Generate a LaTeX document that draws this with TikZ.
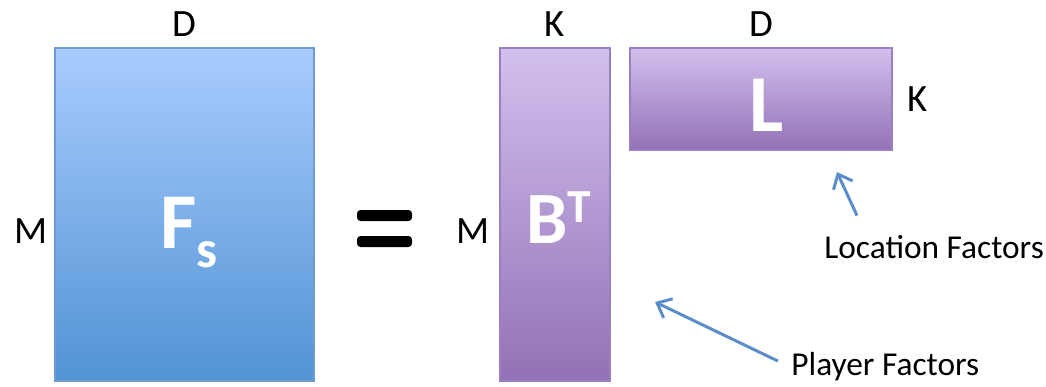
\documentclass[tikz,border=0pt]{standalone}
\usepackage{fontspec}
\setmainfont{Carlito}
\usetikzlibrary{arrows.meta, positioning, shadows}
\definecolor{fsTop}{HTML}{A9CCFE}
\definecolor{fsBot}{HTML}{5193D4}
\definecolor{fsLine}{HTML}{6E9BD0}
\definecolor{puTop}{HTML}{D2C0EE}
\definecolor{puBot}{HTML}{9371B6}
\definecolor{puLine}{HTML}{9A80C2}
\definecolor{ptrBlue}{HTML}{5B8EC9}

\begin{document}
\begin{tikzpicture}[x=0.02cm, y=-0.02cm, every node/.style={font=\fontsize{22}{26}\selectfont, inner sep=0pt},
  matbox/.style={line width=1.2pt, drop shadow={shadow xshift=0.8pt, shadow yshift=-0.8pt, opacity=0.25}},
  bluemat/.style={matbox, draw=fsLine, top color=fsTop, bottom color=fsBot},
  purplemat/.style={matbox, draw=puLine, top color=puTop, bottom color=puBot},
  bigtxt/.style={text=white, font=\fontsize{45}{50}\selectfont\bfseries},
  note/.style={font=\fontsize{19}{23}\selectfont},
  pointer/.style={draw=ptrBlue, line width=1.7pt, -{Straight Barb[length=7pt, width=12pt]}}]
\useasboundingbox (0,0) rectangle (1046,386);

% matrices
\node[bluemat, minimum width=5.18cm, minimum height=6.66cm] (F) at (184.5,214.5) {};
\node[purplemat, minimum width=2.2cm, minimum height=6.66cm] (B) at (555,214.5) {};
\node[purplemat, minimum width=5.24cm, minimum height=2.04cm] (L) at (761,99) {};

\node[bigtxt, anchor=base west] (FsTxt) at (160,248) {F\raisebox{-11.3pt}{\fontsize{30}{30}\selectfont s}};
\node[bigtxt, font=\fontsize{42}{46}\selectfont\bfseries, anchor=base west] (BTxt) at (526,243) {B\raisebox{11.9pt}{\fontsize{27}{27}\selectfont T}};
\node[bigtxt, font=\fontsize{46}{50}\selectfont\bfseries, anchor=base west] (LTxt) at (749,131) {L};

% equals
\fill[rounded corners=2pt] (357,210) rectangle (412,221);
\fill[rounded corners=2pt] (357,236) rectangle (412,247);

% dimensions
\node[above=0.2cm of F] (dF) {D};
\node[anchor=base east] (mF) at (48,243) {M};
\node[above=0.2cm of B] (kB) {K};
\node[anchor=base east] (mB) at (490,243) {M};
\node[above=0.2cm of L] (dL) {D};
\node[right=0.28cm of L] (kL) {K};

% notes
\node[note, anchor=base west] (locF) at (824,258) {Location Factors};
\node[note, anchor=base west] (playF) at (791,375) {Player Factors};
\coordinate (locTail) at ([xshift=0.66cm, yshift=0.38cm]locF.north west);
\coordinate (locTip) at ([xshift=1.52cm, yshift=-0.42cm]L.south);
\coordinate (playTail) at ([xshift=-0.26cm, yshift=0.1cm]playF.west);
\coordinate (playTip) at ([xshift=0.88cm, yshift=-1.75cm]B.east);
\draw[pointer] (locTail) -- (locTip);
\draw[pointer] (playTail) -- (playTip);
\end{tikzpicture}
\end{document}
